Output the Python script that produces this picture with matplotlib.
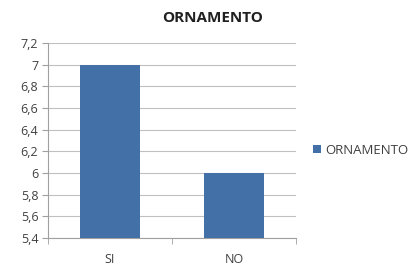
import matplotlib.pyplot as plt
from matplotlib.ticker import FuncFormatter, FixedLocator
import numpy as np

categories = ['SI', 'NO']
values = [7, 6]
series_name = 'ORNAMENTO'
y_ticks = [5.4, 5.6, 5.8, 6.0, 6.2, 6.4, 6.6, 6.8, 7.0, 7.2]

plt.rcParams['font.family'] = ['Open Sans', 'DejaVu Sans']

fig = plt.figure(figsize=(4.11, 2.67), dpi=100)
ax = fig.add_axes([0.117, 0.109, 0.603, 0.730])

x = np.arange(len(categories))
bars = ax.bar(x, values, width=0.49, color='#4470A8', bottom=0, label=series_name, zorder=3)

ax.set_xlim(-0.5, len(categories) - 0.5)
ax.set_ylim(5.4, 7.2)
ax.set_yticks(y_ticks)
ax.yaxis.set_major_formatter(FuncFormatter(lambda v, p: ('%g' % round(v, 1)).replace('.', ',')))
ax.set_xticks(x)
ax.set_xticklabels(categories)
ax.xaxis.set_minor_locator(FixedLocator([-0.5, 0.5, 1.5]))

ax.grid(axis='y', color='#C0C0C0', linewidth=0.8, zorder=0)
for s in ['top', 'right']:
    ax.spines[s].set_visible(False)
for s in ['left', 'bottom']:
    ax.spines[s].set_color('#A0A0A0')
    ax.spines[s].set_linewidth(0.8)

ax.tick_params(axis='y', length=4, color='#A0A0A0', labelsize=9, labelcolor='#404040', pad=3)
ax.tick_params(axis='x', which='major', length=0, labelsize=9, labelcolor='#404040', pad=11)
ax.tick_params(axis='x', which='minor', length=4, color='#A0A0A0')

# title is centred on the whole figure, not on the plot area
fig.text(0.516, 0.932, series_name, fontsize=11, fontweight='bold', color='#202020',
         ha='center', va='center')

ax.legend(loc='center left', bbox_to_anchor=(1.02, 0.45), frameon=False, fontsize=9.5,
          handlelength=0.65, handleheight=0.65, handletextpad=0.3, labelcolor='#404040')

fig.savefig('out.png', dpi=100)
